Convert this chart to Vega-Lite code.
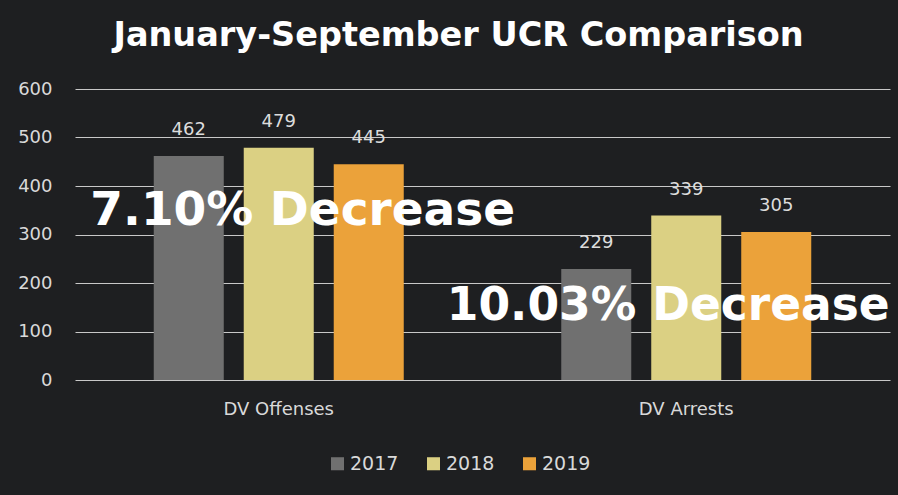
{
  "$schema": "https://vega.github.io/schema/vega-lite/v6.json",
  "autosize": {"type": "none"},
  "width": 815,
  "height": 291,
  "padding": {"left": 75, "top": 89, "right": 8, "bottom": 115},
  "background": "#1e1f21",
  "title": {
    "text": "January-September UCR Comparison",
    "fontSize": 33.5,
    "font": "DejaVu Sans",
    "fontWeight": "bold",
    "color": "#ffffff",
    "anchor": "middle",
    "dx": -24,
    "offset": 27
  },
  "datasets": {
    "bars": [
      {"category": "DV Offenses", "year": "2017", "value": 462},
      {"category": "DV Offenses", "year": "2018", "value": 479},
      {"category": "DV Offenses", "year": "2019", "value": 445},
      {"category": "DV Arrests", "year": "2017", "value": 229},
      {"category": "DV Arrests", "year": "2018", "value": 339},
      {"category": "DV Arrests", "year": "2019", "value": 305}
    ],
    "notes": [
      {"category": "DV Offenses", "value": 348, "label": "7.10% Decrease"},
      {"category": "DV Arrests", "value": 152, "label": "10.03% Decrease"}
    ]
  },
  "config": {
    "view": {"stroke": null},
    "axis": {"labelFont": "DejaVu Sans", "labelColor": "#d9d9d9"},
    "legend": {"labelFont": "DejaVu Sans", "labelColor": "#d9d9d9"}
  },
  "layer": [
    {
      "data": {"name": "bars"},
      "mark": {"type": "bar"},
      "encoding": {
        "x": {
          "field": "category", "type": "nominal", "sort": ["DV Offenses", "DV Arrests"],
          "scale": {"paddingInner": 0, "paddingOuter": 0},
          "axis": {"title": null, "labelAngle": 0, "labelFontSize": 18, "labelPadding": 20, "ticks": false, "domain": false}
        },
        "y": {
          "field": "value", "type": "quantitative",
          "scale": {"domain": [0, 600]},
          "axis": {"title": null, "values": [0, 100, 200, 300, 400, 500, 600], "labelFontSize": 18, "labelPadding": 23, "ticks": false, "domain": false, "gridColor": "#c8c8c8", "gridWidth": 1.2, "gridOpacity": 1}
        },
        "xOffset": {
          "field": "year", "type": "nominal",
          "scale": {"paddingInner": 0.222, "paddingOuter": 0.875}
        },
        "color": {
          "field": "year", "type": "nominal",
          "scale": {"domain": ["2017", "2018", "2019"], "range": ["#707070", "#dbd083", "#eba23a"]},
          "legend": {
            "title": null, "orient": "none", "direction": "horizontal",
            "legendX": 253, "legendY": 365,
            "symbolType": "square", "symbolSize": 170, "symbolStrokeWidth": 0,
            "labelFontSize": 19, "columnPadding": 25, "labelOffset": 3
          }
        }
      }
    },
    {
      "data": {"name": "bars"},
      "mark": {"type": "text", "baseline": "bottom", "dy": -17, "fontSize": 18, "font": "DejaVu Sans", "color": "#dcdcdc"},
      "encoding": {
        "x": {"field": "category", "type": "nominal", "sort": ["DV Offenses", "DV Arrests"]},
        "xOffset": {"field": "year", "type": "nominal", "scale": {"paddingInner": 0.222, "paddingOuter": 0.875}},
        "y": {"field": "value", "type": "quantitative"},
        "text": {"field": "value", "type": "quantitative"}
      }
    },
    {
      "data": {"name": "notes"},
      "transform": [{"filter": "datum.category === 'DV Offenses'"}],
      "mark": {"type": "text", "baseline": "middle", "align": "center", "dx": 24, "fontSize": 47, "font": "DejaVu Sans", "fontWeight": "bold", "color": "#ffffff"},
      "encoding": {
        "x": {"field": "category", "type": "nominal", "sort": ["DV Offenses", "DV Arrests"]},
        "y": {"field": "value", "type": "quantitative"},
        "text": {"field": "label", "type": "nominal"}
      }
    },
    {
      "data": {"name": "notes"},
      "transform": [{"filter": "datum.category === 'DV Arrests'"}],
      "mark": {"type": "text", "baseline": "middle", "align": "center", "dx": -18, "fontSize": 45.5, "font": "DejaVu Sans", "fontWeight": "bold", "color": "#ffffff"},
      "encoding": {
        "x": {"field": "category", "type": "nominal", "sort": ["DV Offenses", "DV Arrests"]},
        "y": {"field": "value", "type": "quantitative"},
        "text": {"field": "label", "type": "nominal"}
      }
    }
  ]
}
